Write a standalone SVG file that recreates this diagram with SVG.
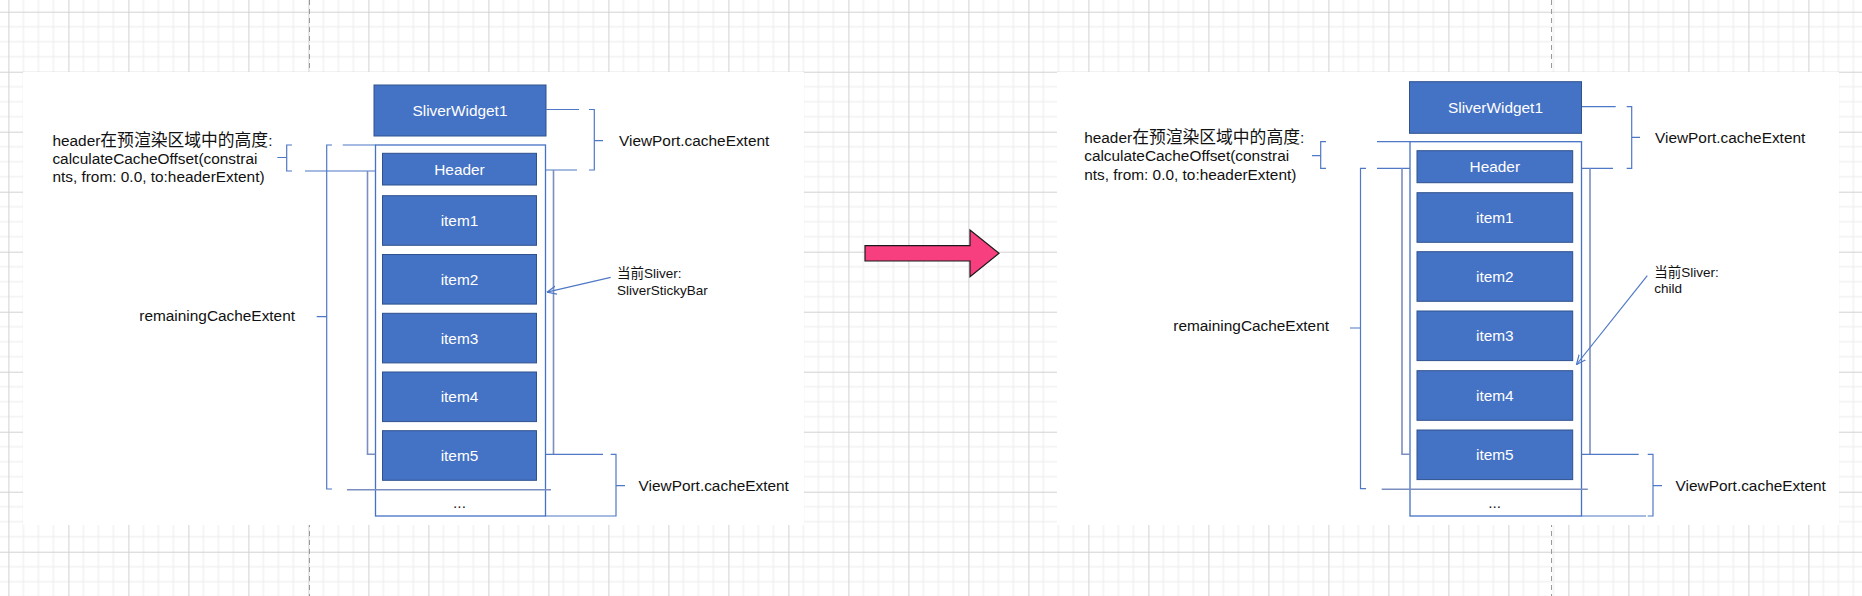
<svg xmlns="http://www.w3.org/2000/svg" width="1862" height="596" viewBox="0 0 1862 596">
<style>
.box{fill:#4472C4;stroke:#2F528F;stroke-width:1}
.lbl{font-family:"Liberation Sans",Arial,sans-serif;font-size:15.4px;fill:#ffffff;text-anchor:middle;dominant-baseline:central}
.txt{font-family:"Liberation Sans","Noto Sans CJK SC",sans-serif;font-size:15.4px;fill:#111111}
.cjk{font-size:16.8px}
.small{font-size:13.5px}
.ln{fill:none;stroke:#4F78C6;stroke-width:1.2}
.inner{fill:none;stroke:#7A8EC0;stroke-width:1.6}
.cont{fill:#ffffff;stroke:#4472C4;stroke-width:1.3}
.arr{fill:none;stroke:#4F78C6;stroke-width:1.2;marker-end:url(#open)}
</style>
<defs>
<pattern id="grid" x="8.4" y="11.7" width="60" height="60" patternUnits="userSpaceOnUse">
<path d="M15,0V60M30,0V60M45,0V60M0,15H60M0,30H60M0,45H60" fill="none" stroke="#ebebeb" stroke-width="1"/>
<path d="M0.5,0V60M0,0.5H60" fill="none" stroke="#d2d2d2" stroke-width="1"/>
</pattern>
<marker id="open" viewBox="0 0 10 10" refX="9.5" refY="5" markerWidth="10" markerHeight="10" markerUnits="userSpaceOnUse" orient="auto">
<path d="M0,0.8L9.5,5L0,9.2" fill="none" stroke="#4F78C6" stroke-width="1.2"/>
</marker>
</defs>
<rect width="1862" height="596" fill="#ffffff"/>
<rect width="1862" height="596" fill="url(#grid)"/>
<path d="M309.5,0V596M1551.5,0V596" stroke="#9a9a9a" stroke-width="1" stroke-dasharray="5 4"/>
<rect x="23" y="72" width="781" height="453" fill="#ffffff"/>
<rect x="1057" y="72" width="782" height="453" fill="#ffffff"/>

<!-- LEFT DIAGRAM -->
<g id="left-sliverwidget1"><rect class="box" x="374" y="85" width="172" height="51"/><text class="lbl" x="460" y="110.5">SliverWidget1</text></g>
<g id="left-sliver"><rect class="cont" x="375.5" y="145" width="170" height="371"/><text class="lbl" x="459.5" y="502" style="fill:#222">...</text></g>
<g id="left-header"><rect class="box" x="382.5" y="153.3" width="154" height="31.7"/><text class="lbl" x="459.5" y="169.2">Header</text></g>
<g id="left-item1"><rect class="box" x="382.5" y="195.7" width="154" height="49.6"/><text class="lbl" x="459.5" y="220.5">item1</text></g>
<g id="left-item2"><rect class="box" x="382.5" y="254.5" width="154" height="49.6"/><text class="lbl" x="459.5" y="279.3">item2</text></g>
<g id="left-item3"><rect class="box" x="382.5" y="313.3" width="154" height="49.6"/><text class="lbl" x="459.5" y="338.1">item3</text></g>
<g id="left-item4"><rect class="box" x="382.5" y="372" width="154" height="49.6"/><text class="lbl" x="459.5" y="396.8">item4</text></g>
<g id="left-item5"><rect class="box" x="382.5" y="430.7" width="154" height="49.6"/><text class="lbl" x="459.5" y="455.5">item5</text></g>
<g id="left-labels">
<text class="txt" x="52.4" y="145.5">header<tspan class="cjk">在预渲染区域中的高度</tspan>:</text>
<text class="txt" x="52.4" y="164">calculateCacheOffset(constrai</text>
<text class="txt" x="52.4" y="182.3">nts, from: 0.0, to:headerExtent)</text>
<text class="txt" x="295" y="321.2" text-anchor="end">remainingCacheExtent</text>
<text class="txt" x="619" y="146.2">ViewPort.cacheExtent</text>
<text class="txt" x="638.6" y="491.2">ViewPort.cacheExtent</text>
<text class="txt small" x="617" y="278">当前Sliver:</text>
<text class="txt small" x="617" y="294.8">SliverStickyBar</text>
</g>
<g id="left-connectors">
<path class="ln" d="M546,109.5H579M589,109.5H594.3V170H589M594.3,140.7H603M545.5,170H577"/>
<path class="ln" d="M292,145H286.7V171H292M277.3,157.5H286.7"/>
<path class="ln" d="M342.7,145H375.5M305,171H375.5"/>
<path class="ln" d="M332,145H326.7V489H332M316.7,316.7H326.7"/>
<path class="inner" d="M367.5,171V454.3H375.5"/>
<path class="inner" d="M553.5,170V454.3"/>
<path class="ln" d="M545.7,454.3H603M610.7,454.3H616V516H610.7M616,485.7H625M545.7,516H610.7"/>
<path class="inner" d="M347,489.7H551"/>
<path class="arr" d="M610.7,277.3L547,292.2"/>
</g>

<!-- TRANSITION ARROW -->
<g id="transition-arrow"><path d="M865,245.7H970V230L999,253.3L970,276.7V261H865Z" fill="#F73F7F" stroke="#1a1a1a" stroke-width="1.2" stroke-linejoin="miter"/></g>

<!-- RIGHT DIAGRAM -->
<g id="right-sliverwidget1"><rect class="box" x="1409.5" y="81.7" width="172" height="51.6"/><text class="lbl" x="1495.5" y="107.5">SliverWidget1</text></g>
<g id="right-sliver"><rect class="cont" x="1410" y="141.7" width="171.5" height="374.3"/><text class="lbl" x="1494.6" y="502" style="fill:#222">...</text></g>
<g id="right-header"><rect class="box" x="1417" y="150.7" width="155.7" height="32"/><text class="lbl" x="1494.8" y="166.7">Header</text></g>
<g id="right-item1"><rect class="box" x="1417" y="192.7" width="155.7" height="49.6"/><text class="lbl" x="1494.8" y="217.5">item1</text></g>
<g id="right-item2"><rect class="box" x="1417" y="251.7" width="155.7" height="49.6"/><text class="lbl" x="1494.8" y="276.5">item2</text></g>
<g id="right-item3"><rect class="box" x="1417" y="311" width="155.7" height="49.6"/><text class="lbl" x="1494.8" y="335.8">item3</text></g>
<g id="right-item4"><rect class="box" x="1417" y="370.7" width="155.7" height="49.6"/><text class="lbl" x="1494.8" y="395.5">item4</text></g>
<g id="right-item5"><rect class="box" x="1417" y="430" width="155.7" height="49.6"/><text class="lbl" x="1494.8" y="454.8">item5</text></g>
<g id="right-labels">
<text class="txt" x="1084.2" y="142.8">header<tspan class="cjk">在预渲染区域中的高度</tspan>:</text>
<text class="txt" x="1084.2" y="161.2">calculateCacheOffset(constrai</text>
<text class="txt" x="1084.2" y="179.5">nts, from: 0.0, to:headerExtent)</text>
<text class="txt" x="1329" y="330.5" text-anchor="end">remainingCacheExtent</text>
<text class="txt" x="1655" y="142.8">ViewPort.cacheExtent</text>
<text class="txt" x="1675.6" y="491.2">ViewPort.cacheExtent</text>
<text class="txt small" x="1654.3" y="276.5">当前Sliver:</text>
<text class="txt small" x="1654.3" y="293.2">child</text>
</g>
<g id="right-connectors">
<path class="ln" d="M1582,106.7H1615.7M1626.7,106.7H1631.7V168.3H1626.7M1631.7,137.3H1640M1581.5,168.3H1613"/>
<path class="ln" d="M1326,141.7H1320.7V168.3H1326M1312,155.7H1320.7"/>
<path class="ln" d="M1377,141.7H1410M1377,168.3H1410"/>
<path class="ln" d="M1366,168.3H1360.5V488.7H1366M1350,328H1360.5"/>
<path class="inner" d="M1402,168.3V454.3H1410"/>
<path class="inner" d="M1590,168.3V454.3"/>
<path class="ln" d="M1581.5,454.3H1638.7M1647.7,454.3H1653V516H1647.7M1653,485.7H1662M1581.5,516H1646"/>
<path class="inner" d="M1381.7,489.3H1587.8"/>
<path class="arr" d="M1647.3,275.7L1576.5,364.5"/>
</g>
</svg>
